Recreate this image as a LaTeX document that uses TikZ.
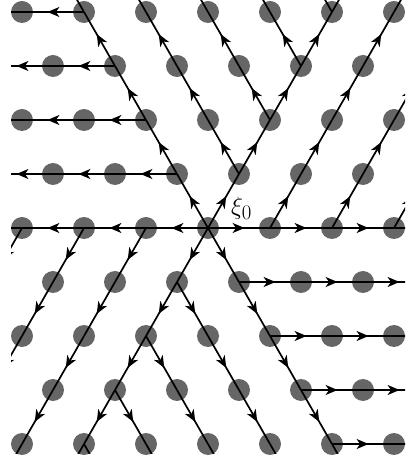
\documentclass[tikz,border=0pt]{standalone}
\usetikzlibrary{arrows.meta,decorations.markings}
\begin{document}
\begin{tikzpicture}[x=1pt,y=1pt,
  dot/.style={circle, fill=black!60, minimum size=22pt, inner sep=0pt},
  flow/.style={line width=1.7pt, postaction={decorate},
    decoration={markings, mark=at position 0.59 with {\arrow{Stealth[length=12pt,width=10pt,inset=3.5pt]}}}},
  lab/.style={inner sep=0pt, anchor=base west, font=\fontsize{30}{31}\selectfont}
]
\useasboundingbox (0,0) rectangle (405,463);
% lattice points
\foreach \i in {-10,...,10}{
  \foreach \j in {-9,...,9}{
    \coordinate (c\i_\j) at ({208+62*\i+31*\j},{235+54*\j});
  }
}
% dots
\foreach \j in {-4,...,4}{
  \foreach \i in {-8,...,8}{
    \pgfmathtruncatemacro{\px}{208+62*\i+31*\j}
    \ifnum\px>20 \ifnum\px<396 \node[dot] (n\i_\j) at (c\i_\j) {}; \fi\fi
  }
}
% flow lines
\begin{scope}
\clip (11,9) rectangle (405,463);
\foreach \si/\sj/\di/\dj/\n in {
  0/0/1/0/4, 0/0/0/1/5, 0/0/-1/1/5, 0/0/-1/0/4, 0/0/0/-1/5, 0/0/1/-1/5,
  -1/1/-1/0/5, -2/2/-1/0/5, -3/3/-1/0/5, -4/4/-1/0/5,
  -1/0/0/-1/5, -2/0/0/-1/5, -3/0/0/-1/5,
  0/-1/1/-1/5, 0/-2/1/-1/5, 0/-3/1/-1/5, 0/-4/1/-1/5,
  1/-1/1/0/5, 2/-2/1/0/5, 3/-3/1/0/5, 4/-4/1/0/5,
  1/0/0/1/5, 2/0/0/1/5, 3/0/0/1/5,
  0/1/-1/1/5, 0/2/-1/1/5, 0/3/-1/1/5, 0/4/-1/1/5}{
  \foreach \k in {1,...,\n}{
    \pgfmathtruncatemacro{\ai}{\si+(\k-1)*(\di)}
    \pgfmathtruncatemacro{\aj}{\sj+(\k-1)*(\dj)}
    \pgfmathtruncatemacro{\bi}{\si+\k*(\di)}
    \pgfmathtruncatemacro{\bj}{\sj+\k*(\dj)}
    \draw[flow] (c\ai_\aj) -- (c\bi_\bj);
  }
}
\end{scope}
\node[lab] (xi) at (231,248.6) {$\xi_0$};
\end{tikzpicture}
\end{document}
